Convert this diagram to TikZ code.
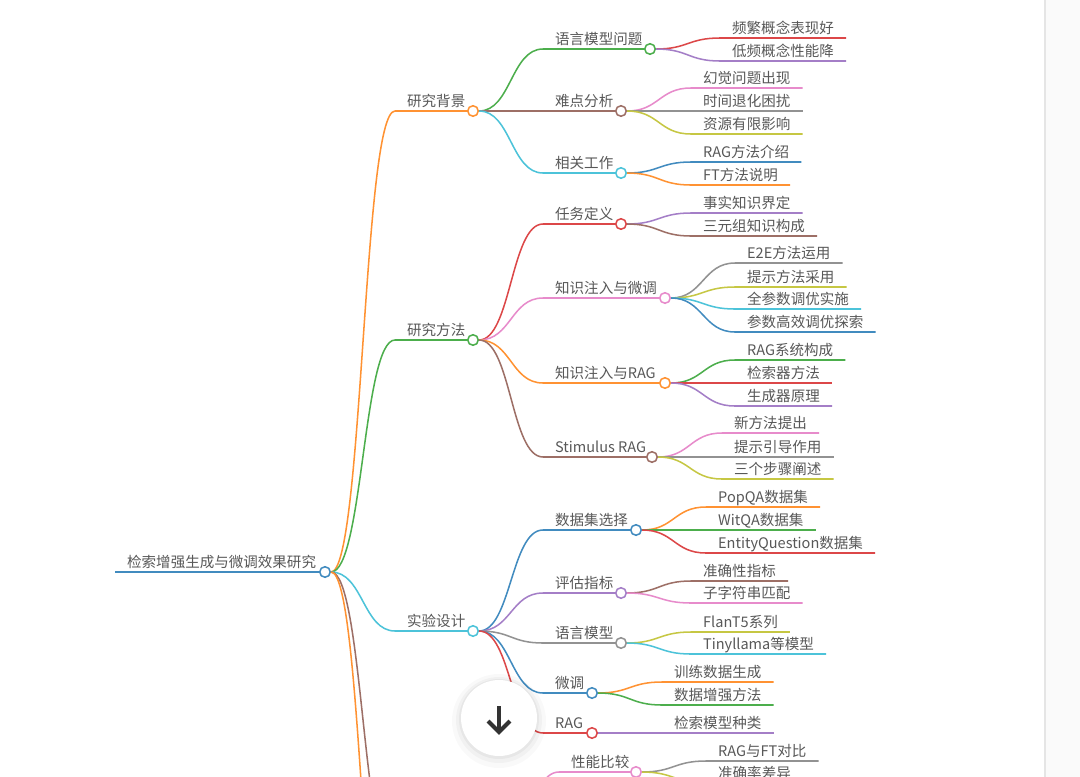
\documentclass[tikz,border=0pt]{standalone}
\usepackage{fontspec}
\setmainfont{Noto Sans CJK SC}
\usepackage{tikz}
\usepackage{xcolor}
\definecolor{ink}{HTML}{585858}
\definecolor{mblue}{HTML}{418BBF}
\definecolor{morange}{HTML}{FF9232}
\definecolor{mgreen}{HTML}{4CAE4C}
\definecolor{mred}{HTML}{DC4748}
\definecolor{mpurple}{HTML}{A47EC7}
\definecolor{mbrown}{HTML}{9D6F66}
\definecolor{mpink}{HTML}{E78BCB}
\definecolor{mgray}{HTML}{929292}
\definecolor{molive}{HTML}{C6C743}
\definecolor{mcyan}{HTML}{4CC3D9}

\begin{document}
\begin{tikzpicture}[x=0.03cm, y=-0.03cm, font=\fontsize{12.4}{15}\selectfont,
    txt/.style={anchor=south west, inner xsep=10.2pt, inner ysep=3.6pt, text depth=0pt, text=ink},
    knot/.style={circle, draw=#1, fill=white, line width=1.3pt, minimum size=9pt, inner sep=0pt},
    branch/.style={#1, line width=1.3pt}]
    \useasboundingbox (0,0) rectangle (1080,777);
    \clip (0,0) rectangle (1080,777);
    \fill[white] (0,0) rectangle (1080,777);
    \fill[black!2] (1045,0) rectangle (1080,777);
    \draw[black!10, line width=1.7pt] (1045,0) -- (1045,777);

    % racine et premier niveau
    \node[txt] (root) at (115,572) {检索增强生成与微调效果研究};
    \node[knot=mblue] (root-c) at (325,572) {};
    \node[txt] (bg) at (395,111) {研究背景};  \node[knot=morange] (bg-c) at (473,111) {};
    \node[txt] (ff) at (395,340) {研究方法};  \node[knot=mgreen] (ff-c) at (473,340) {};
    \node[txt] (sy) at (395,631) {实验设计};  \node[knot=mcyan] (sy-c) at (473,631) {};
    % branches qui sortent du cadre
    \coordinate (jg) at (395,868); \coordinate (jg-c) at (495,868); \coordinate (zj) at (395,1049);
    \draw[branch=mblue] (root.south west) -- (root-c.west);
    \draw[branch=morange] (root-c.east) .. controls +(32,0) and +(-32,0) .. (bg.south west) -- (bg-c.west);
    \draw[branch=mgreen] (root-c.east) .. controls +(32,0) and +(-32,0) .. (ff.south west) -- (ff-c.west);
    \draw[branch=mcyan] (root-c.east) .. controls +(32,0) and +(-32,0) .. (sy.south west) -- (sy-c.west);
    \draw[branch=mbrown] (root-c.east) .. controls +(32,0) and +(-32,0) .. (jg);
    \draw[branch=morange] (root-c.east) .. controls +(32,0) and +(-32,0) .. (zj);

    %研究背景
    \node[txt] (bg1) at (543,49) {语言模型问题}; \node[knot=mgreen] (bg1-c) at (650,49) {};
    \node[txt] (bg2) at (543,111) {难点分析};    \node[knot=mbrown] (bg2-c) at (621,111) {};
    \node[txt] (bg3) at (543,173) {相关工作};    \node[knot=mcyan] (bg3-c) at (621,173) {};
    \draw[branch=mgreen] (bg-c.east) .. controls +(32,0) and +(-32,0) .. (bg1.south west) -- (bg1-c.west);
    \draw[branch=mbrown] (bg-c.east) .. controls +(32,0) and +(-32,0) .. (bg2.south west) -- (bg2-c.west);
    \draw[branch=mcyan] (bg-c.east) .. controls +(32,0) and +(-32,0) .. (bg3.south west) -- (bg3-c.west);
    \node[txt] (bg11) at (720,38) {频繁概念表现好};
    \node[txt] (bg12) at (720,61) {低频概念性能降};
    \node[txt] (bg21) at (691,88) {幻觉问题出现};
    \node[txt] (bg22) at (691,111) {时间退化困扰};
    \node[txt] (bg23) at (691,134) {资源有限影响};
    \node[txt] (bg31) at (691,162) {RAG方法介绍};
    \node[txt] (bg32) at (691,185) {FT方法说明};
    \draw[branch=mred] (bg1-c.east) .. controls +(32,0) and +(-32,0) .. (bg11.south west) -- (bg11.south east);
    \draw[branch=mpurple] (bg1-c.east) .. controls +(32,0) and +(-32,0) .. (bg12.south west) -- (bg12.south east);
    \draw[branch=mpink] (bg2-c.east) .. controls +(32,0) and +(-32,0) .. (bg21.south west) -- (bg21.south east);
    \draw[branch=mgray] (bg2-c.east) .. controls +(32,0) and +(-32,0) .. (bg22.south west) -- (bg22.south east);
    \draw[branch=molive] (bg2-c.east) .. controls +(32,0) and +(-32,0) .. (bg23.south west) -- (bg23.south east);
    \draw[branch=mblue] (bg3-c.east) .. controls +(32,0) and +(-32,0) .. (bg31.south west) -- (bg31.south east);
    \draw[branch=morange] (bg3-c.east) .. controls +(32,0) and +(-32,0) .. (bg32.south west) -- (bg32.south east);

    % 研究方法
    \node[txt] (ff1) at (543,224) {任务定义};       \node[knot=mred] (ff1-c) at (621,224) {};
    \node[txt] (ff2) at (543,298) {知识注入与微调}; \node[knot=mpink] (ff2-c) at (665,298) {};
    \node[txt] (ff3) at (543,383) {知识注入与RAG};  \node[knot=morange] (ff3-c) at (665,383) {};
    \node[txt] (ff4) at (543,457) {Stimulus RAG};   \node[knot=mbrown] (ff4-c) at (652,457) {};
    \draw[branch=mred] (ff-c.east) .. controls +(32,0) and +(-32,0) .. (ff1.south west) -- (ff1-c.west);
    \draw[branch=mpink] (ff-c.east) .. controls +(32,0) and +(-32,0) .. (ff2.south west) -- (ff2-c.west);
    \draw[branch=morange] (ff-c.east) .. controls +(32,0) and +(-32,0) .. (ff3.south west) -- (ff3-c.west);
    \draw[branch=mbrown] (ff-c.east) .. controls +(32,0) and +(-32,0) .. (ff4.south west) -- (ff4-c.west);
    \node[txt] (ff11) at (691,213) {事实知识界定};
    \node[txt] (ff12) at (691,236) {三元组知识构成};
    \node[txt] (ff21) at (735,263) {E2E方法运用};
    \node[txt] (ff22) at (735,287) {提示方法采用};
    \node[txt] (ff23) at (735,309) {全参数调优实施};
    \node[txt] (ff24) at (735,332) {参数高效调优探索};
    \node[txt] (ff31) at (735,360) {RAG系统构成};
    \node[txt] (ff32) at (735,383) {检索器方法};
    \node[txt] (ff33) at (735,406) {生成器原理};
    \node[txt] (ff41) at (722,433) {新方法提出};
    \node[txt] (ff42) at (722,457) {提示引导作用};
    \node[txt] (ff43) at (722,479) {三个步骤阐述};
    \draw[branch=mpurple] (ff1-c.east) .. controls +(32,0) and +(-32,0) .. (ff11.south west) -- (ff11.south east);
    \draw[branch=mbrown] (ff1-c.east) .. controls +(32,0) and +(-32,0) .. (ff12.south west) -- (ff12.south east);
    \draw[branch=mgray] (ff2-c.east) .. controls +(32,0) and +(-32,0) .. (ff21.south west) -- (ff21.south east);
    \draw[branch=molive] (ff2-c.east) .. controls +(32,0) and +(-32,0) .. (ff22.south west) -- (ff22.south east);
    \draw[branch=mcyan] (ff2-c.east) .. controls +(32,0) and +(-32,0) .. (ff23.south west) -- (ff23.south east);
    \draw[branch=mblue] (ff2-c.east) .. controls +(32,0) and +(-32,0) .. (ff24.south west) -- (ff24.south east);
    \draw[branch=mgreen] (ff3-c.east) .. controls +(32,0) and +(-32,0) .. (ff31.south west) -- (ff31.south east);
    \draw[branch=mred] (ff3-c.east) .. controls +(32,0) and +(-32,0) .. (ff32.south west) -- (ff32.south east);
    \draw[branch=mpurple] (ff3-c.east) .. controls +(32,0) and +(-32,0) .. (ff33.south west) -- (ff33.south east);
    \draw[branch=mpink] (ff4-c.east) .. controls +(32,0) and +(-32,0) .. (ff41.south west) -- (ff41.south east);
    \draw[branch=mgray] (ff4-c.east) .. controls +(32,0) and +(-32,0) .. (ff42.south west) -- (ff42.south east);
    \draw[branch=molive] (ff4-c.east) .. controls +(32,0) and +(-32,0) .. (ff43.south west) -- (ff43.south east);

    % 实验设计
    \node[txt] (sy1) at (543,530) {数据集选择}; \node[knot=mblue] (sy1-c) at (636,530) {};
    \node[txt] (sy2) at (543,593) {评估指标};   \node[knot=mpurple] (sy2-c) at (621,593) {};
    \node[txt] (sy3) at (543,643) {语言模型};   \node[knot=mgray] (sy3-c) at (621,643) {};
    \node[txt] (sy4) at (543,693) {微调};       \node[knot=mblue] (sy4-c) at (592,693) {};
    \node[txt] (sy5) at (543,733) {RAG};        \node[knot=mred] (sy5-c) at (592,733) {};
    \draw[branch=mblue] (sy-c.east) .. controls +(32,0) and +(-32,0) .. (sy1.south west) -- (sy1-c.west);
    \draw[branch=mpurple] (sy-c.east) .. controls +(32,0) and +(-32,0) .. (sy2.south west) -- (sy2-c.west);
    \draw[branch=mgray] (sy-c.east) .. controls +(32,0) and +(-32,0) .. (sy3.south west) -- (sy3-c.west);
    \draw[branch=mblue] (sy-c.east) .. controls +(32,0) and +(-32,0) .. (sy4.south west) -- (sy4-c.west);
    \draw[branch=mred] (sy-c.east) .. controls +(32,0) and +(-32,0) .. (sy5.south west) -- (sy5-c.west);
    \node[txt] (sy11) at (706,507) {PopQA数据集};
    \node[txt] (sy12) at (706,530) {WitQA数据集};
    \node[txt] (sy13) at (706,553) {EntityQuestion数据集};
    \node[txt] (sy21) at (691,581) {准确性指标};
    \node[txt] (sy22) at (691,603) {子字符串匹配};
    \node[txt] (sy31) at (691,632) {FlanT5系列};
    \node[txt] (sy32) at (691,654) {Tinyllama等模型};
    \node[txt] (sy41) at (662,682) {训练数据生成};
    \node[txt] (sy42) at (662,705) {数据增强方法};
    \node[txt] (sy51) at (662,733) {检索模型种类};
    \draw[branch=morange] (sy1-c.east) .. controls +(32,0) and +(-32,0) .. (sy11.south west) -- (sy11.south east);
    \draw[branch=mgreen] (sy1-c.east) .. controls +(32,0) and +(-32,0) .. (sy12.south west) -- (sy12.south east);
    \draw[branch=mred] (sy1-c.east) .. controls +(32,0) and +(-32,0) .. (sy13.south west) -- (sy13.south east);
    \draw[branch=mbrown] (sy2-c.east) .. controls +(32,0) and +(-32,0) .. (sy21.south west) -- (sy21.south east);
    \draw[branch=mpink] (sy2-c.east) .. controls +(32,0) and +(-32,0) .. (sy22.south west) -- (sy22.south east);
    \draw[branch=molive] (sy3-c.east) .. controls +(32,0) and +(-32,0) .. (sy31.south west) -- (sy31.south east);
    \draw[branch=mcyan] (sy3-c.east) .. controls +(32,0) and +(-32,0) .. (sy32.south west) -- (sy32.south east);
    \draw[branch=morange] (sy4-c.east) .. controls +(32,0) and +(-32,0) .. (sy41.south west) -- (sy41.south east);
    \draw[branch=mgreen] (sy4-c.east) .. controls +(32,0) and +(-32,0) .. (sy42.south west) -- (sy42.south east);
    \draw[branch=mpurple] (sy5-c.east) .. controls +(32,0) and +(-32,0) .. (sy51.south west) -- (sy51.south east);

    % branche du bas (coupée)
    \node[txt] (jg1) at (559,772) {性能比较}; \node[knot=mpink] (jg1-c) at (636,772) {};
    \draw[branch=mpink] (jg-c) .. controls +(32,0) and +(-32,0) .. (jg1.south west) -- (jg1-c.west);
    \node[txt] (jg11) at (706,761) {RAG与FT对比};
    \node[txt] (jg12) at (706,783) {准确率差异};
    \draw[branch=mgray] (jg1-c.east) .. controls +(32,0) and +(-32,0) .. (jg11.south west) -- (jg11.south east);
    \draw[branch=molive] (jg1-c.east) .. controls +(32,0) and +(-32,0) .. (jg12.south west) -- (jg12.south east);

    % bouton flottant
    \fill[black, opacity=0.025] (499,721) circle (47);
    \fill[black, opacity=0.03] (499,720) circle (43);
    \fill[black, opacity=0.04] (499,719) circle (40);
    \fill[white] (499,718) circle (38);
    \draw[black!80, line width=3.4pt] (499,706) -- (499,732) (488,721) -- (499,732) -- (510,721);
\end{tikzpicture}
\end{document}
